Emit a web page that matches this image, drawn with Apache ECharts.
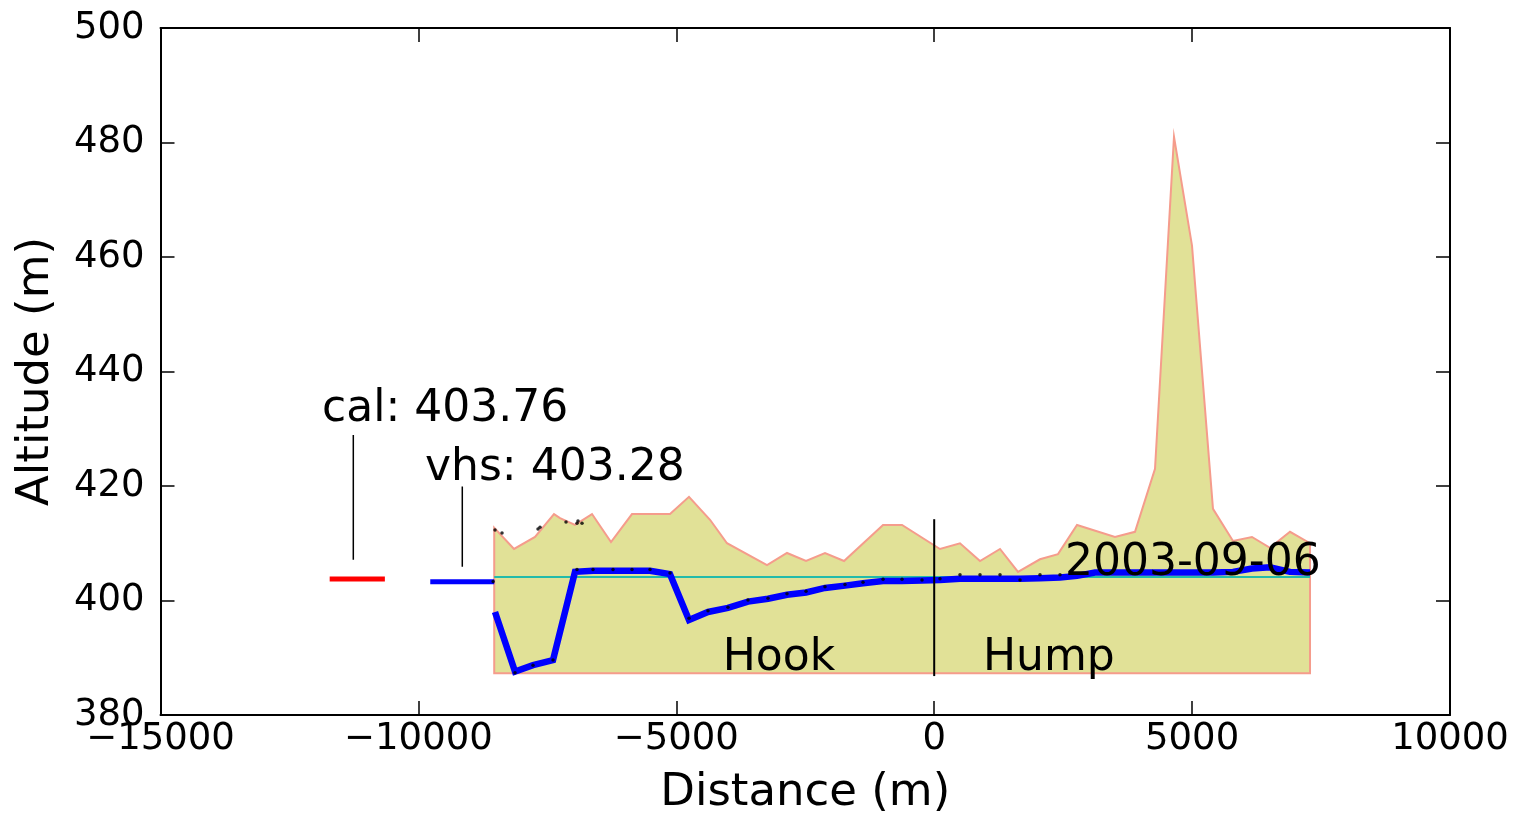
<!DOCTYPE html>
<html>
<head>
<meta charset="utf-8">
<title>Altitude profile</title>
<script src="https://cdn.jsdelivr.net/npm/echarts@6/dist/echarts.min.js"></script>
<style>
  html, body { margin: 0; padding: 0; background: #ffffff; }
  #chart { width: 1516px; height: 813px; }
</style>
</head>
<body>
<div id="chart"></div>
<script>
// ---- Terrain profile (top edge of the filled ground polygon) ----
const terrainX = [-8530, -8146, -7739, -7371, -7254, -6964, -6634, -6266, -5859, -5122,
  -4754, -4346, -4017, -3241, -2854, -2485, -2117, -1748, -992, -624,
  112, 500, 888, 1276, 1625, 2051, 2400, 2769, 3505, 3893,
  4281, 4649, 4998, 5405, 5793, 6161, 6510, 6898, 7286];
const terrainTop = [412.7, 409.0, 411.1, 415.1, 414.4, 413.2, 415.1, 410.2, 415.1, 415.1,
  418.1, 414.1, 410.0, 406.2, 408.3, 406.9, 408.3, 406.9, 413.2, 413.2,
  409.0, 410.0, 406.9, 409.0, 405.0, 407.2, 408.1, 413.2, 411.1, 412.0,
  423.0, 481.0, 462.0, 416.0, 410.4, 411.1, 409.2, 412.0, 410.0];
const terrainBase = 387.3;

// ---- Water surface profile (thick blue line) ----
const surfX = [-8515, -8127, -7778, -7390, -6964, -6615, -6227, -5859, -5510, -5122,
  -4754, -4385, -3998, -3610, -3222, -2854, -2485, -2117, -1729, -1380,
  -992, -624, -236, 112, 500, 888, 1276, 1664, 2051, 2439,
  2769, 3117, 3505, 3893, 4281, 4649, 4998, 5405, 5793, 6161,
  6510, 6898, 7286];
const surfY = [398.0, 387.6, 388.7, 389.6, 405.0, 405.2, 405.2, 405.2, 405.2, 404.6,
  396.6, 398.0, 398.7, 399.8, 400.3, 401.0, 401.4, 402.2, 402.6, 403.0,
  403.4, 403.4, 403.5, 403.6, 403.8, 403.8, 403.8, 403.8, 403.9, 404.0,
  404.3, 404.9, 404.9, 404.9, 404.9, 404.9, 404.9, 404.9, 405.0, 405.6,
  405.8, 405.0, 404.9];

// ---- Raw measurement points (small black dots) ----
const dotX = [-8550, -8515, -8379, -7681, -7642, -7138, -6925, -6906, -6828,
  -8127, -7778, -7390, -6925, -6615, -6227, -5859, -5510, -5122,
  -4754, -4385, -3998, -3610, -3222, -2854, -2485, -2117, -1729, -1380,
  -992, -624, -236, 112, 500, 888, 1276, 1664, 2051, 2439];
const dotY = [403.3, 412.3, 411.8, 412.5, 412.8, 413.7, 413.5, 413.9, 413.5,
  387.4, 388.7, 389.6, 405.4, 405.4, 405.4, 405.4, 405.4, 404.8,
  396.9, 398.2, 398.8, 400.1, 400.4, 401.2, 401.6, 402.4, 402.8, 403.2,
  403.7, 403.7, 403.6, 403.8, 404.5, 404.5, 404.5, 403.6, 404.5, 404.5];

// ---- Reference level (thin cyan line) ----
const refLevel = 404.1;
const refRange = [-8530, 7286];

// ---- Gauge readings ----
const calValue = 403.76;
const calRange = [-11720, -10650];
const calLeader = [-11262, 407.1, 428.9];   // x, y from, y to
const vhsValue = 403.28;
const vhsRange = [-9770, -8530];
const vhsLeader = [-9149, 405.9, 419.9];

// ---- Divider at distance 0 ----
const dividerX = 0;
const dividerY = [386.8, 414.2];

// ---- Text annotations ----
const annX = [-11869, -9872, -4099, 946, 2536];
const annY = [433.3, 423.1, 389.8, 389.8, 406.5];
const annText = ['cal: ' + calValue.toFixed(2), 'vhs: ' + vhsValue.toFixed(2), 'Hook', 'Hump', '2003-09-06'];

// ---- Axes ----
const xMin = -15000, xMax = 10000, xStep = 5000;
const yMin = 380, yMax = 500, yStep = 20;

const FONT = 'DejaVu Sans';
const chart = echarts.init(document.getElementById('chart'), null, { renderer: 'canvas' });

const axisLineStyle = { onZero: false, lineStyle: { color: '#000', width: 2 } };
const tickStyle = { show: true, inside: true, length: 14, lineStyle: { color: '#000', width: 1.5 } };
const minus = v => String(v).replace('-', '\u2212');

function seg(points, color, width) {
  return {
    type: 'line', data: points, symbol: 'none', silent: true, animation: false,
    lineStyle: { color: color, width: width }, z: 4
  };
}

const option = {
  backgroundColor: '#ffffff',
  animation: false,
  grid: { left: 160.5, right: 66, top: 28, bottom: 98, containLabel: false, outerBoundsMode: 'none' },
  xAxis: [
    {
      type: 'value', min: xMin, max: xMax, interval: xStep, position: 'bottom',
      name: 'Distance (m)', nameLocation: 'middle', nameGap: 56,
      nameTextStyle: { fontFamily: FONT, fontSize: 45, color: '#000' },
      axisLine: axisLineStyle, axisTick: tickStyle, splitLine: { show: false },
      axisLabel: { fontFamily: FONT, fontSize: 37, color: '#000', margin: 6, formatter: minus, showMinLabel: true, showMaxLabel: true }
    },
    {
      type: 'value', min: xMin, max: xMax, interval: xStep, position: 'top',
      axisLine: axisLineStyle, axisTick: tickStyle, splitLine: { show: false },
      axisLabel: { show: false }
    }
  ],
  yAxis: [
    {
      type: 'value', min: yMin, max: yMax, interval: yStep, position: 'left',
      name: 'Altitude (m)', nameLocation: 'middle', nameGap: 102, nameRotate: 90,
      nameTextStyle: { fontFamily: FONT, fontSize: 45, color: '#000' },
      axisLine: axisLineStyle, axisTick: tickStyle, splitLine: { show: false },
      axisLabel: { fontFamily: FONT, fontSize: 37, color: '#000', margin: 16, showMinLabel: true, showMaxLabel: true }
    },
    {
      type: 'value', min: yMin, max: yMax, interval: yStep, position: 'right',
      axisLine: axisLineStyle, axisTick: tickStyle, splitLine: { show: false },
      axisLabel: { show: false }
    }
  ],
  series: [
    // ground polygon
    {
      type: 'custom', silent: true, z: 1,
      data: [[terrainX[0], terrainBase]],
      renderItem: function (params, api) {
        const pts = [[terrainX[0], terrainBase]];
        terrainX.forEach((x, i) => pts.push([x, terrainTop[i]]));
        pts.push([terrainX[terrainX.length - 1], terrainBase]);
        return {
          type: 'polygon',
          shape: { points: pts.map(p => api.coord(p)) },
          style: { fill: '#e1e197', stroke: '#f59c8c', lineWidth: 2 }
        };
      }
    },
    // reference level
    Object.assign(seg([[refRange[0], refLevel], [refRange[1], refLevel]], '#22bbaa', 2), { z: 2 }),
    // water surface
    {
      type: 'line', data: surfX.map((x, i) => [x, surfY[i]]), symbol: 'none', silent: true,
      lineStyle: { color: '#0000ff', width: 6.5, join: 'miter' }, z: 3
    },
    // raw points
    {
      type: 'scatter', data: dotX.map((x, i) => [x, dotY[i]]), symbol: 'circle', symbolSize: 3.5,
      itemStyle: { color: '#000' }, silent: true, z: 4
    },
    // gauge markers
    seg([[calRange[0], calValue], [calRange[1], calValue]], '#ff0000', 5),
    seg([[vhsRange[0], vhsValue], [vhsRange[1], vhsValue]], '#0000ff', 5),
    seg([[calLeader[0], calLeader[1]], [calLeader[0], calLeader[2]]], '#000', 1.5),
    seg([[vhsLeader[0], vhsLeader[1]], [vhsLeader[0], vhsLeader[2]]], '#000', 1.5),
    // divider
    seg([[dividerX, dividerY[0]], [dividerX, dividerY[1]]], '#000', 2),
    // text annotations
    {
      type: 'custom', silent: true, z: 10,
      data: annX.map((x, i) => [x, annY[i]]),
      renderItem: function (params, api) {
        const p = api.coord([api.value(0), api.value(1)]);
        return {
          type: 'text', x: p[0], y: p[1],
          style: {
            text: annText[params.dataIndex], fill: '#000',
            fontFamily: FONT, fontSize: 44,
            align: 'left', verticalAlign: 'middle'
          }
        };
      }
    }
  ]
};

chart.setOption(option);
</script>
</body>
</html>
